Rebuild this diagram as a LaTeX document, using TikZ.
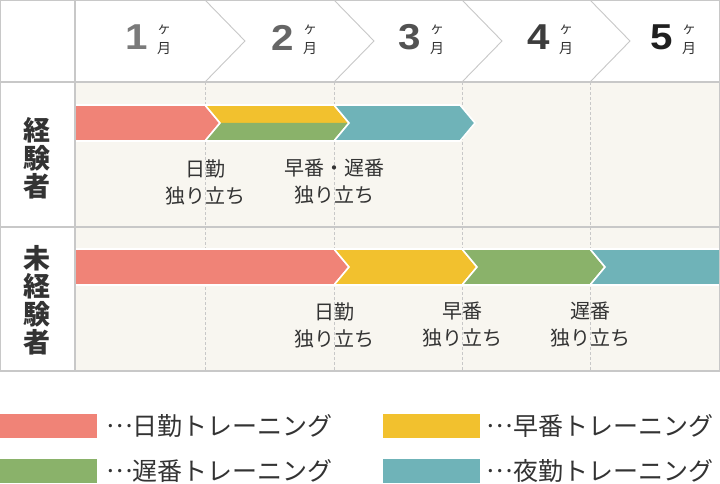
\documentclass[tikz,border=0pt]{standalone}
\usepackage{fontspec}
\setmainfont{Noto Sans CJK JP}
\newfontfamily\numfont[FakeStretch=1.12]{Liberation Sans}
\usetikzlibrary{positioning}

\definecolor{nikkin}{HTML}{F08377}
\definecolor{hayaban}{HTML}{F2C12E}
\definecolor{osoban}{HTML}{8AB26A}
\definecolor{yakin}{HTML}{6FB3B8}
\definecolor{gridline}{HTML}{C8C8C8}
\definecolor{cellbg}{HTML}{F8F6F0}
\definecolor{ink}{HTML}{333333}

\newcommand{\middots}{\raisebox{0.32em}{…}}

\begin{document}
\begin{tikzpicture}[
  x=1pt, y=-1pt,
  every node/.style={inner sep=0pt, text=ink},
  grid/.style={draw=gridline, line width=1.4pt},
  chevronline/.style={draw=gridline, line width=0.9pt},
  divider/.style={draw=gridline, dashed, dash pattern=on 3pt off 2pt, line width=0.6pt},
  bar/.style={draw=white, line width=1.6pt, line join=miter},
  rowlabel/.style={font=\fontsize{27}{28}\selectfont\bfseries, align=center},
  milestone/.style={font=\fontsize{20}{27}\selectfont, align=center},
  monthnum/.style={font=\numfont\fontsize{36}{36}\selectfont\bfseries},
  monthunit/.style={font=\fontsize{14}{14}\selectfont},
  swatch/.style={minimum width=97pt, minimum height=24pt},
  legendtext/.style={font=\fontsize{25}{25}\selectfont, anchor=west}
]
\useasboundingbox (0,0) rectangle (720,484);

% Backgrounds
\fill[white] (0,0) rectangle (720,484);
\fill[cellbg] (75,82) rectangle (720,371);

% Header chevrons
\foreach \x in {205,334,462,590}
  \draw[chevronline] (\x,0) -- (\x+40,41) -- (\x,82);

% Month labels
\foreach \m/\dx/\shade in {1/137/52, 2/283/60, 3/410/68, 4/539/76, 5/662/88} {
  \node[monthnum, text=black!\shade] (num\m) at (\dx,37.5) {\m};
  \node[monthunit] (ke\m) at (\dx+27,29.5) {ヶ};
  \node[monthunit] (tsuki\m) at (\dx+27,49) {月};
}

% Month dividers
\foreach \x in {205,334,462,590}
  \draw[divider] (\x,82) -- (\x,371);

\begin{scope}
\clip (75,82) rectangle (719,371);
% First row: experienced
\filldraw[bar, fill=nikkin] (75,105) -- (205,105) -- (220,123) -- (205,141) -- (75,141) -- cycle;
\fill[hayaban] (205,105) -- (334,105) -- (349,123) -- (220,123) -- cycle;
\fill[osoban] (220,123) -- (349,123) -- (334,141) -- (205,141) -- cycle;
\draw[bar] (205,105) -- (334,105) -- (349,123) -- (334,141) -- (205,141) -- (220,123) -- cycle;
\filldraw[bar, fill=yakin] (334,105) -- (460,105) -- (475,123) -- (460,141) -- (334,141) -- (349,123) -- cycle;

% Second row: inexperienced
\foreach \a/\b/\n/\col in {75/334/0/nikkin, 334/462/15/hayaban, 462/590/15/osoban, 590/720/15/yakin}
  \filldraw[bar, fill=\col] (\a,249) -- (\b,249) -- (\b+15,267) -- (\b,285) -- (\a,285) -- (\a+\n,267) -- cycle;
\end{scope}

% Grid
\draw[grid] (0,0.7) -- (720,0.7);
\draw[grid] (0,82) -- (720,82);
\draw[grid] (0,227) -- (720,227);
\draw[grid] (0,371) -- (720,371);
\draw[grid] (0.7,0) -- (0.7,371);
\draw[grid] (75,0) -- (75,371);
\draw[grid] (719.3,0) -- (719.3,371);

% Row labels
\node[rowlabel] (expd) at (37,158) {経\\験\\者};
\node[rowlabel] (inexpd) at (37,300) {未\\経\\験\\者};

% Milestones
\node[milestone] (ms1) at (205,182) {日勤\\独り立ち};
\node[milestone] (ms2) at (334,182) {早番・遅番\\独り立ち};
\node[milestone] (ms3) at (334,325) {日勤\\独り立ち};
\node[milestone] (ms4) at (462,325) {早番\\独り立ち};
\node[milestone] (ms5) at (590,325) {遅番\\独り立ち};

% Legend
\node[swatch, fill=nikkin] (keyday) at (48.5,426) {};
\node[legendtext, right=9pt of keyday] (txtday) {\middots 日勤トレーニング};
\node[swatch, fill=hayaban] (keyearly) at (431,426) {};
\node[legendtext, right=7pt of keyearly] (txtearly) {\middots 早番トレーニング};
\node[swatch, fill=osoban] (keylate) at (48.5,471) {};
\node[legendtext, right=9pt of keylate] (txtlate) {\middots 遅番トレーニング};
\node[swatch, fill=yakin] (keynight) at (431,471) {};
\node[legendtext, right=7pt of keynight] (txtnight) {\middots 夜勤トレーニング};

\end{tikzpicture}
\end{document}
